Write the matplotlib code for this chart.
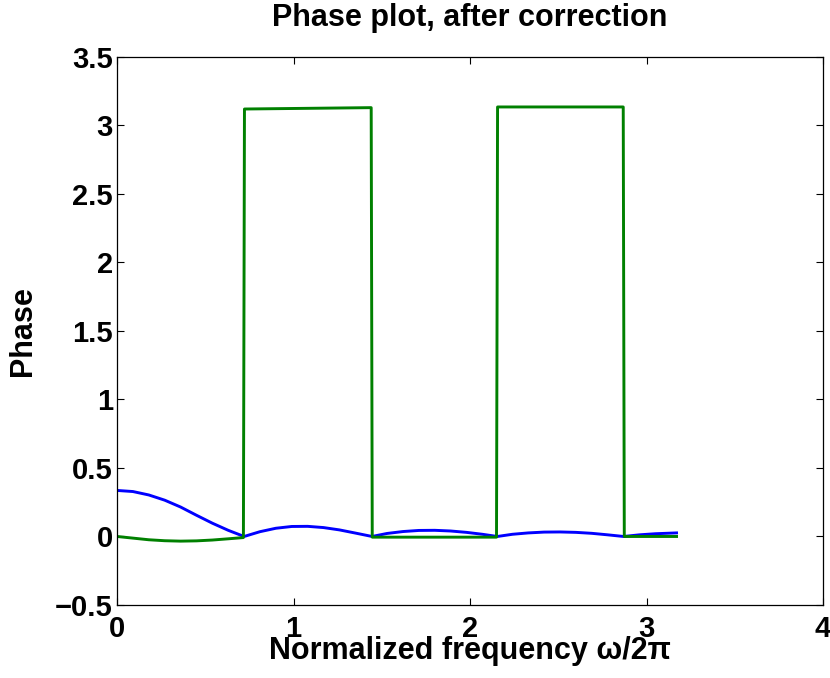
import matplotlib
matplotlib.use("Agg")
import matplotlib.pyplot as plt

# Blue curve (phase, corrected magnitude-like)
blue_x = [0.00, 0.09, 0.18, 0.27, 0.36, 0.45, 0.54, 0.63, 0.72,
          0.81, 0.90, 0.99, 1.08, 1.17, 1.26, 1.35, 1.445,
          1.53, 1.62, 1.71, 1.80, 1.89, 1.98, 2.07, 2.155,
          2.24, 2.33, 2.42, 2.51, 2.60, 2.69, 2.78, 2.87,
          2.96, 3.05, 3.17]
blue_y = [0.336, 0.328, 0.303, 0.265, 0.215, 0.155, 0.097, 0.045, 0.0,
          0.035, 0.060, 0.073, 0.074, 0.065, 0.048, 0.025, 0.0,
          0.022, 0.036, 0.044, 0.045, 0.040, 0.030, 0.016, 0.0,
          0.016, 0.026, 0.032, 0.033, 0.030, 0.023, 0.012, 0.0,
          0.012, 0.020, 0.026]

# Green curve (phase with jumps of ~pi)
green_x = [0.00, 0.09, 0.18, 0.27, 0.36, 0.45, 0.54, 0.63, 0.716,
           0.722, 1.08, 1.44,
           1.446, 2.15,
           2.156, 2.50, 2.868,
           2.874, 3.17]
green_y = [0.0, -0.012, -0.024, -0.031, -0.034, -0.032, -0.026, -0.017, -0.008,
           3.12, 3.125, 3.13,
           -0.005, -0.005,
           3.135, 3.135, 3.135,
           0.0, 0.0]

x_ticks = [0, 1, 2, 3, 4]
y_ticks = [-0.5, 0, 0.5, 1, 1.5, 2, 2.5, 3, 3.5]
y_tick_labels = ["\u22120.5", "0", "0.5", "1", "1.5", "2", "2.5", "3", "3.5"]

plt.rcParams['font.family'] = ['Liberation Sans', 'DejaVu Sans']
plt.rcParams['font.weight'] = 'bold'

fig = plt.figure(figsize=(8.30, 6.78), dpi=100)
ax = fig.add_axes([0.141, 0.1077, 0.8506, 0.8083])

ax.plot(blue_x, blue_y, color=(0, 0, 1), linewidth=2.1)
ax.plot(green_x, green_y, color=(0, 0.5, 0), linewidth=2.1)

ax.set_xlim(0, 4)
ax.set_ylim(-0.5, 3.5)
ax.set_xticks(x_ticks)
ax.set_xticklabels([str(t) for t in x_ticks])
ax.set_yticks(y_ticks)
ax.set_yticklabels(y_tick_labels)

ax.tick_params(direction='in', length=5, width=0.8, top=True, right=True,
               labelsize=21)
ax.tick_params(axis='y', pad=3)
ax.tick_params(axis='x', pad=7)
for lab in ax.get_xticklabels() + ax.get_yticklabels():
    lab.set_fontweight('bold')
for s in ax.spines.values():
    s.set_linewidth(0.9)

ax.set_title("Phase plot, after correction", fontsize=22, fontweight='bold', pad=22)
ax.set_xlabel("Normalized frequency \u03c9/2\u03c0", fontsize=22, fontweight='bold', labelpad=-5)
ax.set_ylabel("Phase", fontsize=22, fontweight='bold', labelpad=12)

fig.savefig("out.png", dpi=100)
